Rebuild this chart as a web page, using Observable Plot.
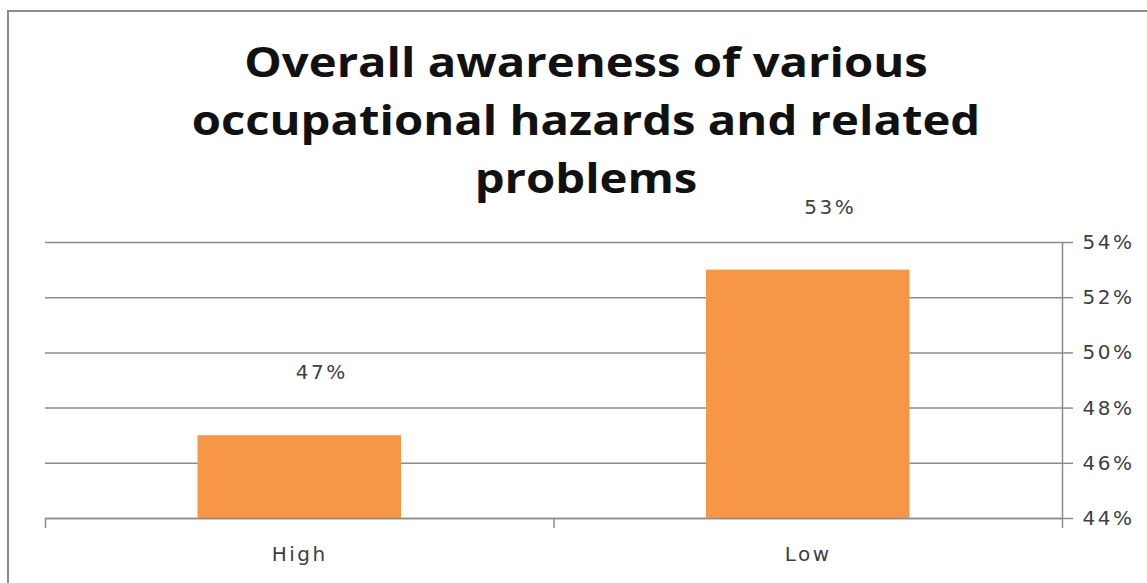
<!DOCTYPE html>
<html>
<head>
<meta charset="utf-8">
<script src="https://cdn.jsdelivr.net/npm/d3@7"></script>
<script src="https://cdn.jsdelivr.net/npm/@observablehq/plot@0.6"></script>
<style>
  html, body { margin: 0; padding: 0; background: #fff; overflow: hidden; }
  #wrap { position: relative; width: 1147px; height: 583px; overflow: hidden; background: #fff; }
  #border { position: absolute; left: 7px; top: 10px; width: 1300px; height: 800px; border: 2px solid #8c8c8c; box-sizing: border-box; }
  #title { position: absolute; left: 0; top: 32px; width: 1172px; text-align: center;
           font-family: "Open Sans", sans-serif; font-weight: 700; font-size: 42px; line-height: 58px; color: #111;
           transform: scaleX(1.125); transform-origin: 586px 0; }
  #chart { position: absolute; left: 0; top: 0; }
</style>
</head>
<body>
<div id="wrap">
  <div id="border"></div>
  <div id="chart"></div>
  <div id="title">Overall awareness of various<br>occupational hazards and related<br>problems</div>
</div>
<script>
const categories = ["High", "Low"];
const values = [0.47, 0.53];
const yTicks = [0.44, 0.46, 0.48, 0.50, 0.52, 0.54];

const data = categories.map((c, i) => ({category: c, index: i, value: values[i]}));
const boundaries = d3.range(categories.length + 1);
const centers = categories.map((c, i) => i + 0.5);
const pct = d => Math.round(d * 100) + "%";
const gridColor = "#8c8c8c";

const chart = Plot.plot({
  width: 1147,
  height: 583,
  marginLeft: 45,
  marginRight: 85,
  marginTop: 242,
  marginBottom: 65,
  style: {fontFamily: "DejaVu Sans", fontSize: "20px", letterSpacing: "2.5px", color: "#404040", background: "transparent", overflow: "visible"},
  x: {type: "linear", domain: [0, categories.length], axis: null},
  y: {domain: [0.44, 0.54], axis: null},
  marks: [
    Plot.gridY(yTicks, {stroke: gridColor, strokeOpacity: 1, strokeWidth: 1.5}),
    Plot.rectY(data, {
      x1: d => d.index, x2: d => d.index + 1, y1: 0.44, y2: "value",
      insetLeft: 152.5, insetRight: 152.5, fill: "#f79646"
    }),
    Plot.ruleY([0.44], {stroke: gridColor, strokeWidth: 1.5}),
    Plot.frame({anchor: "right", stroke: gridColor, strokeWidth: 1.5}),
    Plot.axisY(yTicks, {
      anchor: "right", tickSize: 10, tickPadding: 10, tickFormat: pct,
      stroke: gridColor, strokeWidth: 1.5, label: null, fill: "#404040"
    }),
    Plot.axisX(boundaries, {
      anchor: "bottom", tickSize: 10, tickFormat: () => "", stroke: gridColor, strokeWidth: 1.5, label: null
    }),
    Plot.axisX(centers, {
      anchor: "bottom", tickSize: 0, tickPadding: 28, tickFormat: d => categories[Math.floor(d)],
      label: null, fill: "#404040"
    }),
    Plot.text(data, {
      x: d => d.index + 0.5, y: "value", text: d => pct(d.value),
      dy: -63, dx: 22, fill: "#404040"
    })
  ]
});
document.getElementById("chart").appendChild(chart);
</script>
</body>
</html>
